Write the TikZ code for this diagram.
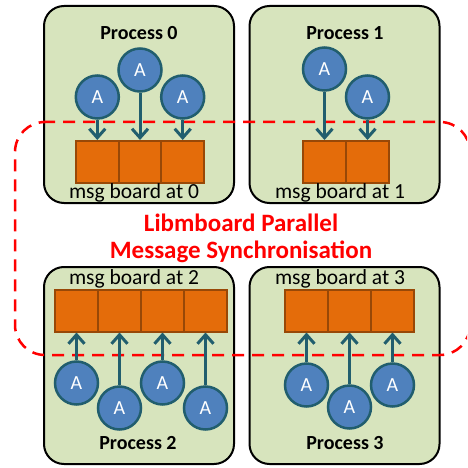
\documentclass[tikz,border=0pt]{standalone}
\usepackage{fontspec}
\setmainfont{Carlito}
\usetikzlibrary{arrows.meta}

\definecolor{procgreen}{HTML}{D7E4BD}
\definecolor{agentblue}{HTML}{4F81BD}
\definecolor{agentedge}{HTML}{215E6E}
\definecolor{boardfill}{HTML}{E46C0A}
\definecolor{boardedge}{HTML}{984807}
\definecolor{syncred}{HTML}{FF0000}

\tikzset{
  procbox/.style={draw=black, line width=2pt, fill=procgreen, rounded corners=20pt,
    minimum width=190pt, minimum height=197pt, inner sep=0pt},
  proctitle/.style={font=\fontsize{20}{24}\selectfont\bfseries},
  boardlabel/.style={font=\fontsize{21.5}{24}\selectfont},
  agent/.style={circle, draw=agentedge, line width=2.5pt, fill=agentblue,
    minimum size=43pt, inner sep=0pt, text=white, font=\fontsize{20}{22}\selectfont},
  cell/.style={rectangle, draw=boardedge, line width=2pt, fill=boardfill,
    minimum width=43pt, minimum height=42pt, inner sep=0pt},
  post/.style={draw=agentedge, line width=3pt, -{Straight Barb[length=9pt,width=16pt]}},
  syncline/.style={draw=syncred, line width=2.5pt, dash pattern=on 12pt off 8pt, rounded corners=30pt},
  synctitle/.style={text=syncred, font=\fontsize{25}{28}\selectfont\bfseries}
}

\begin{document}
\begin{tikzpicture}[x=1pt, y=-1pt]
\useasboundingbox (0,0) rectangle (467,468);
\begin{scope}
\clip (0,0) rectangle (467,468);

% process containers
\node[procbox] (p0) at (139,104.5) {};
\node[procbox] (p1) at (344.5,104.5) {};
\node[procbox] (p2) at (139,365.5) {};
\node[procbox] (p3) at (344.5,365.5) {};

\node[proctitle] (t0) at (139,33) {Process 0};
\node[proctitle] (t1) at (345,33) {Process 1};
\node[proctitle] (t2) at (138,443) {Process 2};
\node[proctitle] (t3) at (345,443) {Process 3};

% message boards
\node[cell] (b0a) at (97.3,162) {};
\node[cell] (b0b) at (140,162) {};
\node[cell] (b0c) at (182.7,162) {};

\node[cell] (b1a) at (324.5,162) {};
\node[cell] (b1b) at (367.5,162) {};

\node[cell] (b2a) at (76.5,310.5) {};
\node[cell] (b2b) at (119.5,310.5) {};
\node[cell] (b2c) at (162.5,310.5) {};
\node[cell] (b2d) at (205.5,310.5) {};

\node[cell] (b3a) at (306.5,310.5) {};
\node[cell] (b3b) at (349.5,310.5) {};
\node[cell] (b3c) at (392.5,310.5) {};

\node[boardlabel] (l0) at (134,193) {msg board at 0};
\node[boardlabel] (l1) at (340,193) {msg board at 1};
\node[boardlabel] (l2) at (134,279) {msg board at 2};
\node[boardlabel] (l3) at (340,279) {msg board at 3};

% synchronisation boundary
\draw[syncline] (43,122) -- (470,122) -- (470,355) -- (15,355) -- (15,122) -- (43,122);

% agents
\node[agent] (a0a) at (97.3,97) {A};
\node[agent] (a0b) at (140,70) {A};
\node[agent] (a0c) at (182.7,97) {A};

\node[agent] (a1a) at (324.5,69) {A};
\node[agent] (a1b) at (367.5,97) {A};

\node[agent] (a2a) at (76.5,383) {A};
\node[agent] (a2b) at (119.5,408) {A};
\node[agent] (a2c) at (162.5,383) {A};
\node[agent] (a2d) at (205.5,408) {A};

\node[agent] (a3a) at (306.5,385) {A};
\node[agent] (a3b) at (349.5,407) {A};
\node[agent] (a3c) at (392.5,385) {A};

% posting messages
\draw[post] (a0a) -- (b0a.north);
\draw[post] (a0b) -- (b0b.north);
\draw[post] (a0c) -- (b0c.north);
\draw[post] (a1a) -- (b1a.north);
\draw[post] (a1b) -- (b1b.north);
\draw[post] (a2a) -- (b2a.south);
\draw[post] (a2b) -- (b2b.south);
\draw[post] (a2c) -- (b2c.south);
\draw[post] (a2d) -- (b2d.south);
\draw[post] (a3a) -- (b3a.south);
\draw[post] (a3b) -- (b3b.south);
\draw[post] (a3c) -- (b3c.south);

% title
\node[synctitle] (s1) at (241,223) {Libmboard Parallel};
\node[synctitle] (s2) at (241,252) {Message Synchronisation};
\end{scope}
\end{tikzpicture}
\end{document}
